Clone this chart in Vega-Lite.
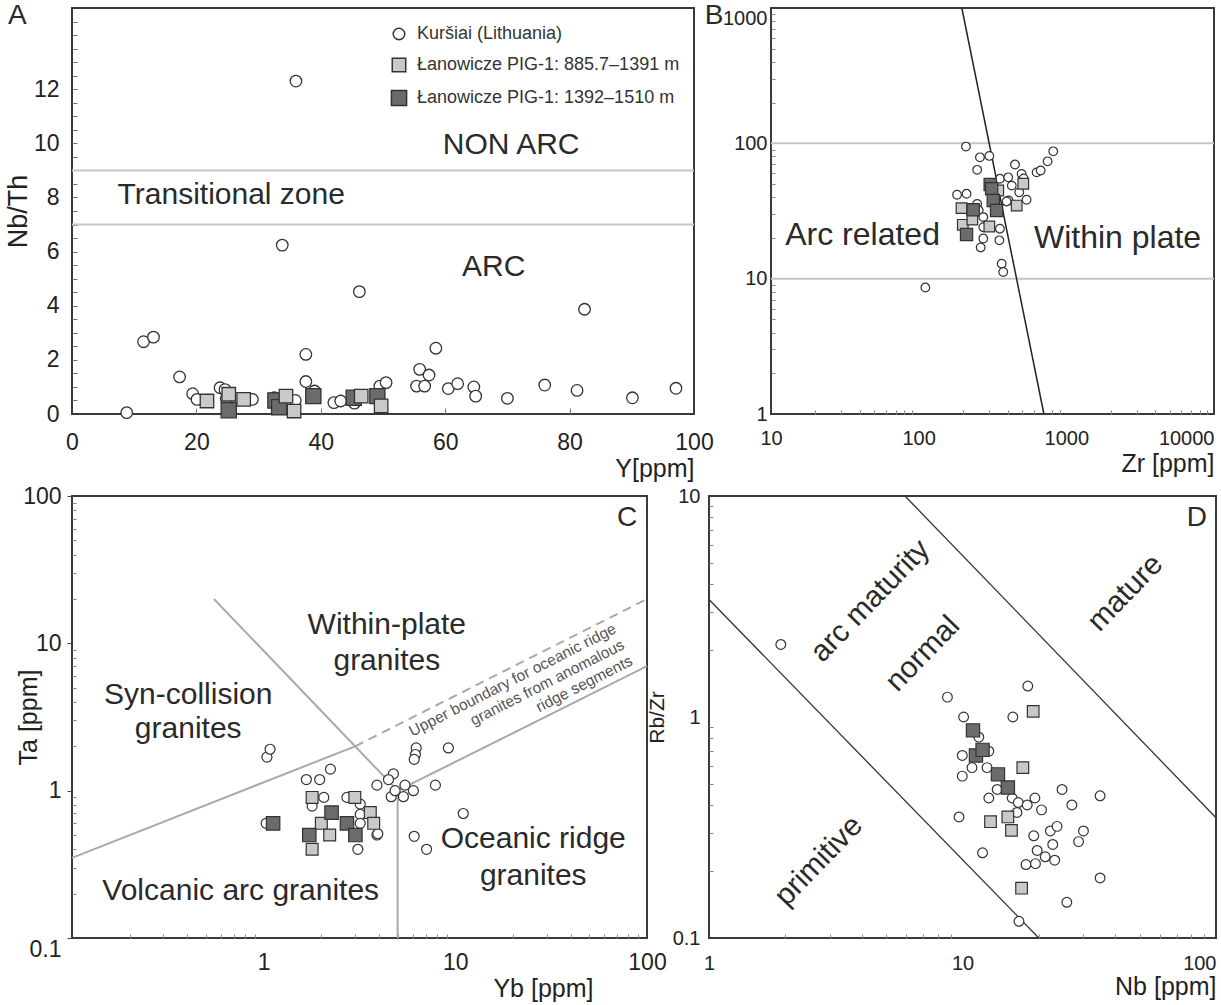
{
  "$schema": "https://vega.github.io/schema/vega-lite/v6.json",
  "background": "white",
  "padding": {"left": 3, "top": 0, "right": 0, "bottom": 0},
  "config": {
    "font": "Liberation Sans",
    "view": {"stroke": "#3a3a3a", "strokeWidth": 2},
    "axis": {"grid": false, "domain": false, "ticks": false, "labelColor": "#222", "titleColor": "#222", "titleFontWeight": "normal", "labelFont": "Liberation Sans", "titleFont": "Liberation Sans"},
    "text": {"font": "Liberation Sans", "color": "#2a2a2a"}
  },
  "datasets": {
    "a": [
      {"g":"K","x":8.8,"y":0.05},{"g":"K","x":11.5,"y":2.67},{"g":"K","x":13.1,"y":2.84},{"g":"K","x":17.3,"y":1.37},
      {"g":"K","x":19.4,"y":0.75},{"g":"K","x":20.1,"y":0.54},{"g":"K","x":23.8,"y":0.97},{"g":"K","x":24.6,"y":0.9},
      {"g":"K","x":24.8,"y":0.55},{"g":"K","x":29.0,"y":0.54},{"g":"K","x":32.5,"y":0.6},{"g":"K","x":33.8,"y":6.24},
      {"g":"K","x":35.9,"y":0.5},{"g":"K","x":36.0,"y":12.3},{"g":"K","x":37.6,"y":2.2},{"g":"K","x":37.6,"y":1.2},
      {"g":"K","x":39.0,"y":0.85},{"g":"K","x":42.1,"y":0.42},{"g":"K","x":43.2,"y":0.48},{"g":"K","x":45.4,"y":0.4},
      {"g":"K","x":46.2,"y":4.52},{"g":"K","x":49.5,"y":1.03},{"g":"K","x":50.5,"y":1.16},{"g":"K","x":55.4,"y":1.03},
      {"g":"K","x":55.9,"y":1.65},{"g":"K","x":56.7,"y":1.03},{"g":"K","x":57.4,"y":1.44},{"g":"K","x":58.5,"y":2.43},
      {"g":"K","x":60.5,"y":0.94},{"g":"K","x":62.0,"y":1.12},{"g":"K","x":64.6,"y":1.0},{"g":"K","x":64.9,"y":0.66},
      {"g":"K","x":70.0,"y":0.58},{"g":"K","x":76.0,"y":1.07},{"g":"K","x":81.2,"y":0.87},{"g":"K","x":82.4,"y":3.87},
      {"g":"K","x":90.1,"y":0.6},{"g":"K","x":97.1,"y":0.95},
      {"g":"L2","x":25.2,"y":0.14},{"g":"L2","x":32.7,"y":0.5},{"g":"L2","x":33.3,"y":0.25},{"g":"L2","x":38.8,"y":0.66},
      {"g":"L2","x":45.3,"y":0.6},{"g":"L2","x":49.1,"y":0.66},
      {"g":"L1","x":21.7,"y":0.48},{"g":"L1","x":25.2,"y":0.73},{"g":"L1","x":27.6,"y":0.54},{"g":"L1","x":34.4,"y":0.66},
      {"g":"L1","x":35.7,"y":0.11},{"g":"L1","x":46.5,"y":0.66},{"g":"L1","x":49.7,"y":0.3}
    ],
    "b": [
      {"g":"K","x":209,"y":94.6},{"g":"K","x":260,"y":78.8},{"g":"K","x":301,"y":80.7},{"g":"K","x":249,"y":63.7},
      {"g":"K","x":449,"y":69.7},{"g":"K","x":629,"y":61},{"g":"K","x":670,"y":63},{"g":"K","x":747,"y":73.6},
      {"g":"K","x":815,"y":87.3},{"g":"K","x":498,"y":59.4},{"g":"K","x":514,"y":55},{"g":"K","x":355,"y":54.7},
      {"g":"K","x":404,"y":56.1},{"g":"K","x":427,"y":48.7},{"g":"K","x":480,"y":43.5},{"g":"K","x":538,"y":38.3},
      {"g":"K","x":406,"y":37.8},{"g":"K","x":182,"y":41.7},{"g":"K","x":211,"y":42.4},{"g":"K","x":249,"y":35.7},
      {"g":"K","x":255,"y":32},{"g":"K","x":274,"y":28.5},{"g":"K","x":274,"y":24},{"g":"K","x":394,"y":37.2},
      {"g":"K","x":355,"y":23.4},{"g":"K","x":274,"y":19.8},{"g":"K","x":263,"y":17.0},{"g":"K","x":352,"y":19.2},
      {"g":"K","x":365,"y":12.9},{"g":"K","x":374,"y":11.2},{"g":"K","x":111,"y":8.6},
      {"g":"L1","x":195,"y":33.2},{"g":"L1","x":199,"y":25.0},{"g":"L1","x":231,"y":27.3},{"g":"L1","x":301,"y":24.3},
      {"g":"L1","x":461,"y":34.7},{"g":"L1","x":511,"y":50.3},{"g":"L1","x":346,"y":44.8},
      {"g":"L2","x":234,"y":32.3},{"g":"L2","x":211,"y":21.2},{"g":"L2","x":305,"y":49.7},{"g":"L2","x":312,"y":46.1},
      {"g":"L2","x":320,"y":37.8},{"g":"L2","x":337,"y":31.9}
    ],
    "c": [
      {"g":"K","x":1.03,"y":0.60},{"g":"K","x":1.67,"y":1.19},{"g":"K","x":1.96,"y":1.19},{"g":"K","x":2.23,"y":1.40},
      {"g":"K","x":2.06,"y":0.90},{"g":"K","x":1.79,"y":0.785},{"g":"K","x":2.72,"y":0.90},{"g":"K","x":3.19,"y":0.81},
      {"g":"K","x":3.19,"y":0.69},{"g":"K","x":3.19,"y":0.60},{"g":"K","x":3.10,"y":0.40},{"g":"K","x":3.90,"y":0.50},
      {"g":"K","x":4.75,"y":1.30},{"g":"K","x":4.48,"y":1.19},{"g":"K","x":3.90,"y":1.09},{"g":"K","x":4.63,"y":0.91},
      {"g":"K","x":4.85,"y":1.0},{"g":"K","x":5.46,"y":1.09},{"g":"K","x":6.04,"y":1.0},{"g":"K","x":5.36,"y":0.91},
      {"g":"K","x":7.87,"y":1.09},{"g":"K","x":11.0,"y":0.70},{"g":"K","x":6.1,"y":0.49},{"g":"K","x":7.08,"y":0.40},
      {"g":"K","x":1.04,"y":1.69},{"g":"K","x":1.08,"y":1.91},{"g":"K","x":6.25,"y":1.95},{"g":"K","x":6.19,"y":1.76},
      {"g":"K","x":6.10,"y":1.63},{"g":"K","x":9.2,"y":1.95},{"g":"K","x":3.94,"y":0.51},
      {"g":"L1","x":1.79,"y":0.90},{"g":"L1","x":2.00,"y":0.60},{"g":"L1","x":2.21,"y":0.50},{"g":"L1","x":1.79,"y":0.40},
      {"g":"L1","x":2.99,"y":0.90},{"g":"L1","x":3.60,"y":0.71},{"g":"L1","x":3.75,"y":0.60},
      {"g":"L2","x":1.12,"y":0.60},{"g":"L2","x":2.26,"y":0.71},{"g":"L2","x":1.73,"y":0.50},{"g":"L2","x":2.72,"y":0.60},
      {"g":"L2","x":3.01,"y":0.50}
    ],
    "d": [
      {"g":"K","x":18.1,"y":1.38},{"g":"K","x":8.72,"y":1.23},{"g":"K","x":10.1,"y":1.0},{"g":"K","x":15.8,"y":1.0},
      {"g":"K","x":11.6,"y":0.81},{"g":"K","x":9.98,"y":0.67},{"g":"K","x":10.9,"y":0.59},{"g":"K","x":9.98,"y":0.54},
      {"g":"K","x":12.7,"y":0.70},{"g":"K","x":12.5,"y":0.59},{"g":"K","x":13.7,"y":0.47},{"g":"K","x":12.7,"y":0.43},
      {"g":"K","x":15.7,"y":0.43},{"g":"K","x":16.6,"y":0.41},{"g":"K","x":18.0,"y":0.40},{"g":"K","x":19.3,"y":0.43},
      {"g":"K","x":20.5,"y":0.38},{"g":"K","x":24.7,"y":0.47},{"g":"K","x":27.0,"y":0.40},{"g":"K","x":34.9,"y":0.44},
      {"g":"K","x":9.69,"y":0.353},{"g":"K","x":16.4,"y":0.37},{"g":"K","x":19.1,"y":0.29},{"g":"K","x":22.2,"y":0.305},
      {"g":"K","x":23.6,"y":0.32},{"g":"K","x":22.7,"y":0.265},{"g":"K","x":19.7,"y":0.249},{"g":"K","x":21.2,"y":0.233},
      {"g":"K","x":23.1,"y":0.225},{"g":"K","x":17.8,"y":0.215},{"g":"K","x":19.4,"y":0.217},{"g":"K","x":28.7,"y":0.273},
      {"g":"K","x":30.0,"y":0.305},{"g":"K","x":12.0,"y":0.243},{"g":"K","x":34.9,"y":0.187},{"g":"K","x":25.8,"y":0.145},
      {"g":"K","x":16.7,"y":0.119},{"g":"K","x":1.92,"y":2.13},
      {"g":"L1","x":19.0,"y":1.06},{"g":"L1","x":17.3,"y":0.59},{"g":"L1","x":12.9,"y":0.336},{"g":"L1","x":15.1,"y":0.353},
      {"g":"L1","x":15.6,"y":0.307},{"g":"L1","x":17.1,"y":0.168},
      {"g":"L2","x":11.0,"y":0.87},{"g":"L2","x":11.3,"y":0.67},{"g":"L2","x":12.0,"y":0.71},{"g":"L2","x":13.8,"y":0.55},
      {"g":"L2","x":15.1,"y":0.48}
    ]
  },
  "spacing": 2,
  "resolve": {"scale": {"fill": "independent", "shape": "independent", "size": "independent"}, "legend": {"fill": "independent", "shape": "independent", "size": "independent"}},
  "vconcat": [
    {
      "hconcat": [
        {
          "width": 622, "height": 406,
          "resolve": {"axis": {"x": "independent", "y": "independent"}},
          "layer": [
            {
              "data": {"values": [{"y": 7}, {"y": 9}]},
              "mark": {"type": "rule", "stroke": "#c6c6c6", "strokeWidth": 2},
              "encoding": {"y": {"field": "y", "type": "quantitative", "scale": {"domain": [0, 15], "nice": false},
                "axis": {"orient": "left", "values": [0.5,1,1.5,2,2.5,3,3.5,4,4.5,5,5.5,6,6.5,7,7.5,8,8.5,9,9.5,10,10.5,11,11.5,12,12.5,13,13.5,14,14.5], "labels": false, "ticks": true, "tickSize": -5, "tickColor": "#777", "tickWidth": 1, "domain": false, "title": null}}}
            },
            {
              "data": {"values": [{"x": 70.6, "y": 9.94, "t": "NON ARC"}, {"x": 25.6, "y": 8.09, "t": "Transitional zone"}, {"x": 67.8, "y": 5.43, "t": "ARC"}]},
              "mark": {"type": "text", "fontSize": 30, "baseline": "middle", "align": "center"},
              "encoding": {
                "x": {"field": "x", "type": "quantitative", "scale": {"domain": [0, 100], "nice": false},
                  "axis": {"orient": "bottom", "values": [20, 40, 60, 80], "labels": false, "ticks": true, "tickSize": -6, "tickColor": "#777", "tickWidth": 1, "domain": false, "title": null}},
                "y": {"field": "y", "type": "quantitative", "scale": {"domain": [0, 15], "nice": false}, "axis": null},
                "text": {"field": "t"}
              }
            },
            {
              "data": {"values": [{"x": -8.8, "y": 14.7, "t": "A"}]},
              "mark": {"type": "text", "fontSize": 28, "baseline": "middle", "align": "center"},
              "encoding": {
                "x": {"field": "x", "type": "quantitative", "scale": {"domain": [0, 100], "nice": false}, "axis": null},
                "y": {"field": "y", "type": "quantitative", "scale": {"domain": [0, 15], "nice": false}, "axis": null},
                "text": {"field": "t"}
              }
            },
            {
              "data": {"name": "a"},
              "mark": {"type": "point", "filled": true, "stroke": "#333333", "strokeWidth": 1.3, "opacity": 1},
              "encoding": {
                "x": {"field": "x", "type": "quantitative", "scale": {"domain": [0, 100], "nice": false},
                  "axis": {"orient": "bottom", "values": [0, 20, 40, 60, 80, 100], "labelFlush": false, "labelFontSize": 23, "labelPadding": 17, "title": "Y[ppm]", "titleFontSize": 25, "titleAnchor": "end", "titleY": 54, "titleBaseline": "middle"}},
                "y": {"field": "y", "type": "quantitative", "scale": {"domain": [0, 15], "nice": false},
                  "axis": {"orient": "left", "values": [0, 2, 4, 6, 8, 10, 12], "labelFontSize": 23, "labelPadding": 13, "title": "Nb/Th", "titleFontSize": 27, "titleX": -54, "titleBaseline": "middle"}},
                "fill": {"field": "g", "type": "nominal", "scale": {"domain": ["K", "L1", "L2"], "range": ["#ffffff", "#c9c9c9", "#6b6b6b"]},
                  "legend": {"title": null, "orient": "none", "legendX": 318, "legendY": 17, "labelFontSize": 18, "labelColor": "#333", "labelLimit": 400,
                    "labelExpr": "datum.label == 'K' ? 'Kuršiai (Lithuania)' : datum.label == 'L1' ? 'Łanowicze PIG-1: 885.7–1391 m' : 'Łanowicze PIG-1: 1392–1510 m'",
                    "rowPadding": 12, "labelOffset": 9, "padding": 0,
                    "encode": {"symbols": {"update": {"stroke": {"value": "#333333"}, "strokeWidth": {"value": 1.3}}}}}},
                "shape": {"field": "g", "type": "nominal", "scale": {"domain": ["K", "L1", "L2"], "range": ["circle", "square", "square"]},
                  "legend": {"title": null, "orient": "none", "legendX": 318, "legendY": 17, "labelFontSize": 18, "labelColor": "#333", "labelLimit": 400,
                    "labelExpr": "datum.label == 'K' ? 'Kuršiai (Lithuania)' : datum.label == 'L1' ? 'Łanowicze PIG-1: 885.7–1391 m' : 'Łanowicze PIG-1: 1392–1510 m'",
                    "rowPadding": 12, "labelOffset": 9, "padding": 0,
                    "encode": {"symbols": {"update": {"stroke": {"value": "#333333"}, "strokeWidth": {"value": 1.3}}}}}},
                "size": {"field": "g", "type": "nominal", "scale": {"domain": ["K", "L1", "L2"], "range": [133, 230, 230]},
                  "legend": {"title": null, "orient": "none", "legendX": 318, "legendY": 17, "labelFontSize": 18, "labelColor": "#333", "labelLimit": 400,
                    "labelExpr": "datum.label == 'K' ? 'Kuršiai (Lithuania)' : datum.label == 'L1' ? 'Łanowicze PIG-1: 885.7–1391 m' : 'Łanowicze PIG-1: 1392–1510 m'",
                    "rowPadding": 12, "labelOffset": 9, "padding": 0,
                    "encode": {"symbols": {"update": {"stroke": {"value": "#333333"}, "strokeWidth": {"value": 1.3}}}}}}
              }
            }
          ]
        },
        {
          "width": 443, "height": 406,
          "resolve": {"axis": {"x": "independent", "y": "independent"}},
          "layer": [
            {
              "data": {"values": [{"y": 10}, {"y": 100}]},
              "mark": {"type": "rule", "stroke": "#c6c6c6", "strokeWidth": 2},
              "encoding": {"y": {"field": "y", "type": "quantitative", "scale": {"type": "log", "domain": [1, 1000], "nice": false}, "axis": null}}
            },
            {
              "data": {"values": [{"x": 196, "y": 1000, "x2": 705, "y2": 1}]},
              "mark": {"type": "rule", "stroke": "#222", "strokeWidth": 1.5},
              "encoding": {
                "x": {"field": "x", "type": "quantitative", "scale": {"type": "log", "domain": [10, 10000], "nice": false},
                  "axis": {"orient": "bottom", "values": [20,30,40,50,60,70,80,90,200,300,400,500,600,700,800,900,2000,3000,4000,5000,6000,7000,8000,9000], "labels": false, "ticks": true, "tickSize": -4, "tickColor": "#888", "tickWidth": 1, "domain": false, "title": null}},
                "y": {"field": "y", "type": "quantitative", "scale": {"type": "log", "domain": [1, 1000], "nice": false},
                  "axis": {"orient": "left", "values": [2,3,4,5,6,7,8,9,20,30,40,50,60,70,80,90,200,300,400,500,600,700,800,900], "labels": false, "ticks": true, "tickSize": -4, "tickColor": "#888", "tickWidth": 1, "domain": false, "title": null}},
                "x2": {"field": "x2"}, "y2": {"field": "y2"}
              }
            },
            {
              "data": {"values": [{"x": 41.7, "y": 20.9, "t": "Arc related"}, {"x": 2222, "y": 19.9, "t": "Within plate"}]},
              "mark": {"type": "text", "fontSize": 32, "baseline": "middle", "align": "center"},
              "encoding": {
                "x": {"field": "x", "type": "quantitative", "scale": {"type": "log", "domain": [10, 10000], "nice": false}, "axis": null},
                "y": {"field": "y", "type": "quantitative", "scale": {"type": "log", "domain": [1, 1000], "nice": false}, "axis": null},
                "text": {"field": "t"}
              }
            },
            {
              "data": {"values": [{"x": 4.11, "y": 873, "t": "B"}]},
              "mark": {"type": "text", "fontSize": 28, "baseline": "middle", "align": "center"},
              "encoding": {
                "x": {"field": "x", "type": "quantitative", "scale": {"type": "log", "domain": [10, 10000], "nice": false}, "axis": null},
                "y": {"field": "y", "type": "quantitative", "scale": {"type": "log", "domain": [1, 1000], "nice": false}, "axis": null},
                "text": {"field": "t"}
              }
            },
            {
              "data": {"name": "b"},
              "mark": {"type": "point", "filled": true, "stroke": "#333333", "strokeWidth": 1.2, "opacity": 1},
              "encoding": {
                "x": {"field": "x", "type": "quantitative", "scale": {"type": "log", "domain": [10, 10000], "nice": false},
                  "axis": {"orient": "bottom", "values": [10, 100, 1000, 10000], "format": "d", "labelFlush": false, "labelFontSize": 20, "labelPadding": 14,
                    "labelAlign": {"condition": {"test": "datum.value >= 10000", "value": "right"}, "value": "center"},
                    "title": "Zr [ppm]", "titleFontSize": 25, "titleAnchor": "end", "titleY": 49, "titleBaseline": "middle"}},
                "y": {"field": "y", "type": "quantitative", "scale": {"type": "log", "domain": [1, 1000], "nice": false},
                  "axis": {"orient": "left", "values": [1, 10, 100, 1000], "format": "d", "labelFontSize": 20, "labelPadding": 4,
                    "labelBaseline": {"condition": {"test": "datum.value >= 1000", "value": "top"}, "value": "middle"}, "title": null}},
                "fill": {"field": "g", "type": "nominal", "scale": {"domain": ["K", "L1", "L2"], "range": ["#ffffff", "#c9c9c9", "#6b6b6b"]}, "legend": null},
                "shape": {"field": "g", "type": "nominal", "scale": {"domain": ["K", "L1", "L2"], "range": ["circle", "square", "square"]}, "legend": null},
                "size": {"field": "g", "type": "nominal", "scale": {"domain": ["K", "L1", "L2"], "range": [75, 150, 150]}, "legend": null}
              }
            }
          ]
        }
      ],
      "spacing": 77,
      "bounds": "flush",
      "resolve": {"scale": {"fill": "independent", "shape": "independent", "size": "independent"}, "legend": {"fill": "independent", "shape": "independent", "size": "independent"}}
    },
    {
      "hconcat": [
        {
          "width": 575, "height": 442,
          "resolve": {"axis": {"x": "independent", "y": "independent"}},
          "layer": [
            {
              "data": {"values": [{"x": 0.1, "y": 0.35, "x2": 3, "y2": 2}, {"x": 0.55, "y": 20, "x2": 3, "y2": 2}, {"x": 3, "y": 2, "x2": 5, "y2": 1}, {"x": 5, "y": 1, "x2": 5, "y2": 0.1}, {"x": 5, "y": 1, "x2": 100, "y2": 7}]},
              "mark": {"type": "rule", "stroke": "#a9a9a9", "strokeWidth": 2},
              "encoding": {
                "x": {"field": "x", "type": "quantitative", "scale": {"type": "log", "domain": [0.1, 100], "nice": false},
                  "axis": {"orient": "bottom", "values": [0.2,0.3,0.4,0.5,0.6,0.7,0.8,0.9,2,3,4,5,6,7,8,9,20,30,40,50,60,70,80,90], "labels": false, "ticks": true, "tickSize": -4, "tickColor": "#888", "tickWidth": 1, "domain": false, "title": null}},
                "y": {"field": "y", "type": "quantitative", "scale": {"type": "log", "domain": [0.1, 100], "nice": false},
                  "axis": {"orient": "left", "values": [0.2,0.3,0.4,0.5,0.6,0.7,0.8,0.9,2,3,4,5,6,7,8,9,20,30,40,50,60,70,80,90], "labels": false, "ticks": true, "tickSize": -4, "tickColor": "#888", "tickWidth": 1, "domain": false, "title": null}},
                "x2": {"field": "x2"}, "y2": {"field": "y2"}
              }
            },
            {
              "data": {"values": [{"x": 3, "y": 2, "x2": 100, "y2": 20}]},
              "mark": {"type": "rule", "stroke": "#a9a9a9", "strokeWidth": 2, "strokeDash": [9, 6]},
              "encoding": {
                "x": {"field": "x", "type": "quantitative", "scale": {"type": "log", "domain": [0.1, 100], "nice": false}, "axis": null},
                "y": {"field": "y", "type": "quantitative", "scale": {"type": "log", "domain": [0.1, 100], "nice": false}, "axis": null},
                "x2": {"field": "x2"}, "y2": {"field": "y2"}
              }
            },
            {
              "data": {"values": [
                {"x": 4.39, "y": 13.3, "t": "Within-plate"}, {"x": 4.39, "y": 7.58, "t": "granites"},
                {"x": 0.404, "y": 4.46, "t": "Syn-collision"}, {"x": 0.404, "y": 2.61, "t": "granites"},
                {"x": 0.759, "y": 0.208, "t": "Volcanic arc granites"},
                {"x": 25.5, "y": 0.467, "t": "Oceanic ridge"}, {"x": 25.5, "y": 0.263, "t": "granites"}
              ]},
              "mark": {"type": "text", "fontSize": 30, "baseline": "middle", "align": "center"},
              "encoding": {
                "x": {"field": "x", "type": "quantitative", "scale": {"type": "log", "domain": [0.1, 100], "nice": false}, "axis": null},
                "y": {"field": "y", "type": "quantitative", "scale": {"type": "log", "domain": [0.1, 100], "nice": false}, "axis": null},
                "text": {"field": "t"}
              }
            },
            {
              "data": {"values": [{"x": 70, "y": 11.9, "t": "Upper boundary for oceanic ridge\ngranites from anomalous\nridge segments"}]},
              "mark": {"type": "text", "fontSize": 15.5, "lineBreak": "\n", "lineHeight": 18, "angle": 333, "align": "right", "baseline": "alphabetic", "color": "#555555"},
              "encoding": {
                "x": {"field": "x", "type": "quantitative", "scale": {"type": "log", "domain": [0.1, 100], "nice": false}, "axis": null},
                "y": {"field": "y", "type": "quantitative", "scale": {"type": "log", "domain": [0.1, 100], "nice": false}, "axis": null},
                "text": {"field": "t"}
              }
            },
            {
              "data": {"values": [{"x": 78.7, "y": 70.5, "t": "C"}]},
              "mark": {"type": "text", "fontSize": 28, "baseline": "middle", "align": "center"},
              "encoding": {
                "x": {"field": "x", "type": "quantitative", "scale": {"type": "log", "domain": [0.1, 100], "nice": false}, "axis": null},
                "y": {"field": "y", "type": "quantitative", "scale": {"type": "log", "domain": [0.1, 100], "nice": false}, "axis": null},
                "text": {"field": "t"}
              }
            },
            {
              "data": {"name": "c"},
              "mark": {"type": "point", "filled": true, "stroke": "#333333", "strokeWidth": 1.2, "opacity": 1},
              "encoding": {
                "x": {"field": "x", "type": "quantitative", "scale": {"type": "log", "domain": [0.1, 100], "nice": false},
                  "axis": {"orient": "bottom", "values": [1, 10, 100], "format": "~g", "labelFlush": false, "labelFontSize": 23, "labelPadding": 13,
                    "title": "Yb [ppm]", "titleFontSize": 25, "titleX": 521, "titleAlign": "right", "titleY": 50, "titleBaseline": "middle"}},
                "y": {"field": "y", "type": "quantitative", "scale": {"type": "log", "domain": [0.1, 100], "nice": false},
                  "axis": {"orient": "left", "values": [0.1, 1, 10, 100], "format": "~g", "labelFontSize": 23, "labelPadding": 6,
                    "ticks": true, "tickSize": 5, "tickColor": "#444", "tickWidth": 1,
                    "labelBaseline": {"condition": {"test": "datum.value <= 0.1", "value": "top"}, "value": "middle"},
                    "title": "Ta [ppm]", "titleFontSize": 25, "titleX": -44, "titleBaseline": "middle"}},
                "fill": {"field": "g", "type": "nominal", "scale": {"domain": ["K", "L1", "L2"], "range": ["#ffffff", "#c9c9c9", "#6b6b6b"]}, "legend": null},
                "shape": {"field": "g", "type": "nominal", "scale": {"domain": ["K", "L1", "L2"], "range": ["circle", "square", "square"]}, "legend": null},
                "size": {"field": "g", "type": "nominal", "scale": {"domain": ["K", "L1", "L2"], "range": [100, 180, 180]}, "legend": null}
              }
            }
          ]
        },
        {
          "width": 507, "height": 442,
          "resolve": {"axis": {"x": "independent", "y": "independent"}},
          "layer": [
            {
              "data": {"values": [{"x": 1, "y": 3.4, "x2": 20, "y2": 0.1}, {"x": 5.93, "y": 10, "x2": 100, "y2": 0.35}]},
              "mark": {"type": "rule", "stroke": "#333333", "strokeWidth": 1.3},
              "encoding": {
                "x": {"field": "x", "type": "quantitative", "scale": {"type": "log", "domain": [1, 100], "nice": false},
                  "axis": {"orient": "bottom", "values": [2,3,4,5,6,7,8,9,20,30,40,50,60,70,80,90], "labels": false, "ticks": true, "tickSize": -4, "tickColor": "#888", "tickWidth": 1, "domain": false, "title": null}},
                "y": {"field": "y", "type": "quantitative", "scale": {"type": "log", "domain": [0.1, 10], "nice": false},
                  "axis": {"orient": "left", "values": [0.2,0.3,0.4,0.5,0.6,0.7,0.8,0.9,2,3,4,5,6,7,8,9], "labels": false, "ticks": true, "tickSize": -4, "tickColor": "#888", "tickWidth": 1, "domain": false, "title": null}},
                "x2": {"field": "x2"}, "y2": {"field": "y2"}
              }
            },
            {
              "data": {"values": [
                {"x": 4.33, "y": 3.35, "t": "arc maturity"}, {"x": 6.97, "y": 1.93, "t": "normal"},
                {"x": 43.9, "y": 3.64, "t": "mature"}, {"x": 2.71, "y": 0.223, "t": "primitive"}
              ]},
              "mark": {"type": "text", "fontSize": 30, "baseline": "middle", "align": "center", "angle": 314},
              "encoding": {
                "x": {"field": "x", "type": "quantitative", "scale": {"type": "log", "domain": [1, 100], "nice": false}, "axis": null},
                "y": {"field": "y", "type": "quantitative", "scale": {"type": "log", "domain": [0.1, 10], "nice": false}, "axis": null},
                "text": {"field": "t"}
              }
            },
            {
              "data": {"values": [{"x": 84, "y": 7.95, "t": "D"}]},
              "mark": {"type": "text", "fontSize": 28, "baseline": "middle", "align": "center"},
              "encoding": {
                "x": {"field": "x", "type": "quantitative", "scale": {"type": "log", "domain": [1, 100], "nice": false}, "axis": null},
                "y": {"field": "y", "type": "quantitative", "scale": {"type": "log", "domain": [0.1, 10], "nice": false}, "axis": null},
                "text": {"field": "t"}
              }
            },
            {
              "data": {"name": "d"},
              "mark": {"type": "point", "filled": true, "stroke": "#333333", "strokeWidth": 1.2, "opacity": 1},
              "encoding": {
                "x": {"field": "x", "type": "quantitative", "scale": {"type": "log", "domain": [1, 100], "nice": false},
                  "axis": {"orient": "bottom", "values": [1, 10, 100], "format": "~g", "labelFontSize": 20, "labelPadding": 15,
                    "labelAlign": {"condition": {"test": "datum.value >= 100", "value": "right"}, "value": "center"},
                    "title": "Nb [ppm]", "titleFontSize": 25, "titleAnchor": "end", "titleY": 48, "titleBaseline": "middle"}},
                "y": {"field": "y", "type": "quantitative", "scale": {"type": "log", "domain": [0.1, 10], "nice": false},
                  "axis": {"orient": "left", "values": [0.1, 1, 10], "format": "~g", "labelFontSize": 20, "labelPadding": 9,
                    "title": "Rb/Zr", "titleFontSize": 21, "titleX": -52, "titleBaseline": "middle"}},
                "fill": {"field": "g", "type": "nominal", "scale": {"domain": ["K", "L1", "L2"], "range": ["#ffffff", "#c9c9c9", "#6b6b6b"]}, "legend": null},
                "shape": {"field": "g", "type": "nominal", "scale": {"domain": ["K", "L1", "L2"], "range": ["circle", "square", "square"]}, "legend": null},
                "size": {"field": "g", "type": "nominal", "scale": {"domain": ["K", "L1", "L2"], "range": [95, 175, 175]}, "legend": null}
              }
            }
          ]
        }
      ],
      "spacing": 62,
      "bounds": "flush",
      "resolve": {"scale": {"fill": "independent", "shape": "independent", "size": "independent"}, "legend": {"fill": "independent", "shape": "independent", "size": "independent"}}
    }
  ]
}
